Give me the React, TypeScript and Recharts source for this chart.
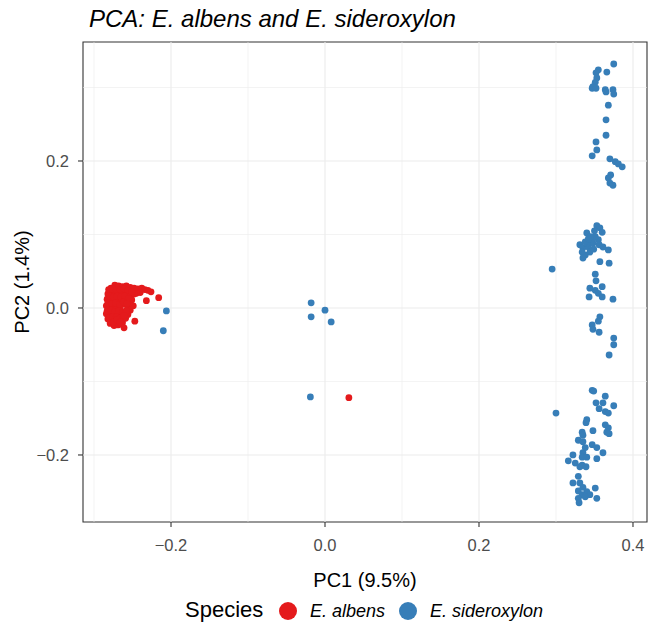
import { ScatterChart, Scatter, XAxis, YAxis, ReferenceLine, ReferenceArea } from 'recharts';

const albensX = [
  -0.278, -0.273, -0.268, -0.263, -0.258, -0.253, -0.248, -0.243, -0.238, -0.234, -0.230, -0.226, -0.240, -0.245,
  -0.282, -0.278, -0.273, -0.268, -0.262, -0.257, -0.252, -0.248,
  -0.283, -0.279, -0.274, -0.269, -0.264, -0.259, -0.254, -0.251,
  -0.284, -0.280, -0.276, -0.271, -0.266, -0.261, -0.256, -0.253,
  -0.284, -0.279, -0.275, -0.270, -0.265, -0.260, -0.256,
  -0.282, -0.278, -0.273, -0.268, -0.263, -0.259,
  -0.279, -0.274, -0.269, -0.265,
  -0.281, -0.276, -0.271, -0.266, -0.261, -0.256, -0.251,
  -0.280, -0.275, -0.270, -0.265, -0.260, -0.255,
  -0.282, -0.277, -0.272, -0.267, -0.262, -0.257,
  -0.283, -0.278, -0.273, -0.268, -0.263, -0.258,
  -0.280, -0.276, -0.271, -0.266, -0.261,
  -0.275, -0.270, -0.266,
  -0.216, -0.232, -0.249, -0.247, -0.261, 0.031,
];
const albensY = [
  0.027, 0.031, 0.030, 0.029, 0.030, 0.028, 0.027, 0.026, 0.027, 0.025, 0.024, 0.022, 0.021, 0.020,
  0.019, 0.022, 0.018, 0.021, 0.019, 0.022, 0.017, 0.019,
  0.012, 0.010, 0.013, 0.009, 0.011, 0.014, 0.008, 0.011,
  0.003, 0.000, 0.004, 0.001, -0.002, 0.005, 0.000, -0.003,
  -0.008, -0.006, -0.010, -0.007, -0.011, -0.005, -0.009,
  -0.015, -0.019, -0.015, -0.018, -0.020, -0.014,
  -0.021, -0.024, -0.023, -0.022,
  0.025, 0.026, 0.024, 0.025, 0.026, 0.024, 0.022,
  0.016, 0.015, 0.016, 0.015, 0.016, 0.013,
  0.007, 0.006, 0.007, 0.005, 0.008, 0.006,
  -0.004, -0.003, -0.005, -0.004, -0.006, -0.004,
  -0.013, -0.012, -0.012, -0.014, -0.010,
  -0.019, -0.016, -0.019,
  0.014, 0.010, 0.003, -0.018, -0.027, -0.122,
];

const sideroxylonX = [
  -0.206, -0.210, -0.018, 0.000, -0.018, 0.008, -0.019,
  0.375, 0.366, 0.355, 0.352, 0.353, 0.351, 0.348, 0.347, 0.352, 0.364, 0.365, 0.374, 0.375,
  0.368, 0.365, 0.365, 0.352, 0.353, 0.347, 0.370, 0.377, 0.381, 0.386, 0.371, 0.368, 0.370, 0.374,
  0.295, 0.340, 0.353, 0.357, 0.360, 0.331, 0.335, 0.342, 0.348, 0.355, 0.361, 0.368, 0.338, 0.344,
  0.334, 0.351, 0.347, 0.340, 0.335, 0.357, 0.369, 0.351, 0.352, 0.344, 0.351, 0.360, 0.355, 0.343,
  0.360, 0.374, 0.357, 0.355, 0.347, 0.348, 0.356, 0.375, 0.375, 0.369,
  0.345, 0.350, 0.338, 0.356, 0.349, 0.342,
  0.300, 0.347, 0.349, 0.364, 0.352, 0.361, 0.375, 0.356, 0.364, 0.368, 0.340, 0.339, 0.364, 0.368,
  0.366, 0.369, 0.348, 0.334, 0.335, 0.329, 0.335, 0.347, 0.353, 0.338, 0.361, 0.335, 0.322, 0.334,
  0.340, 0.316, 0.325, 0.353, 0.334, 0.339, 0.331, 0.329, 0.322, 0.331, 0.335, 0.351, 0.329, 0.340,
  0.334, 0.344, 0.353, 0.329, 0.330, 0.338,
];
const sideroxylonY = [
  -0.004, -0.031, 0.007, -0.003, -0.012, -0.019, -0.121,
  0.332, 0.321, 0.324, 0.320, 0.313, 0.307, 0.301, 0.299, 0.299, 0.297, 0.294, 0.297, 0.291,
  0.276, 0.256, 0.235, 0.226, 0.215, 0.207, 0.203, 0.199, 0.196, 0.192, 0.181, 0.177, 0.170, 0.167,
  0.053, 0.102, 0.112, 0.109, 0.103, 0.086, 0.082, 0.083, 0.088, 0.093, 0.083, 0.079, 0.072, 0.076,
  0.076, 0.097, 0.093, 0.088, 0.068, 0.063, 0.061, 0.046, 0.037, 0.027, 0.024, 0.029, 0.020, 0.015,
  0.015, 0.012, -0.012, -0.018, -0.023, -0.029, -0.033, -0.041, -0.050, -0.064,
  0.097, 0.105, 0.090, 0.086, 0.080, 0.094,
  -0.143, -0.112, -0.113, -0.120, -0.129, -0.129, -0.133, -0.137, -0.141, -0.143, -0.152, -0.156, -0.159, -0.163,
  -0.169, -0.171, -0.167, -0.169, -0.173, -0.180, -0.182, -0.186, -0.190, -0.190, -0.197, -0.197, -0.200, -0.203,
  -0.203, -0.208, -0.211, -0.205, -0.214, -0.216, -0.216, -0.229, -0.238, -0.238, -0.244, -0.245, -0.249, -0.250,
  -0.254, -0.254, -0.259, -0.259, -0.265, -0.257,
];

const xTicks = [-0.2, 0, 0.2, 0.4];
const yTicks = [-0.2, 0, 0.2];
const xMinor = [-0.3, -0.1, 0.1, 0.3];
const yMinor = [-0.1, 0.1, 0.3];
const xDomain = [-0.3143, 0.4182];
const yDomain = [-0.2912, 0.3619];

const albens = albensX.map((x, i) => ({ x, y: albensY[i] }));
const sideroxylon = sideroxylonX.map((x, i) => ({ x, y: sideroxylonY[i] }));

const RED = '#E41A1C';
const BLUE = '#377EB8';
const GRID = '#EBEBEB';
const FONT = '"Liberation Sans", Arial, sans-serif';

const fmt = (v: number) => (v < 0 ? '\u2212' + Math.abs(v).toFixed(1) : v.toFixed(1));

const dot = (color: string) => (props: any) => <circle cx={props.cx} cy={props.cy} r={3.4} fill={color} />;

const abs = (left: number, top: number, extra: object = {}) => ({
  position: 'absolute' as const, left, top, lineHeight: 1, whiteSpace: 'nowrap' as const, color: '#000', ...extra,
});

export default function App() {
  return (
    <div style={{ position: 'absolute', left: 0, top: 0, width: 648, height: 623, background: '#fff', fontFamily: FONT }}>
      <div style={abs(89, 7, { fontSize: 24, fontStyle: 'italic' })}>PCA: E. albens and E. sideroxylon</div>
      <ScatterChart width={648} height={623} margin={{ top: 42, right: 1, bottom: 61, left: 23 }}>
        {xMinor.map(v => (
          <ReferenceLine key={'xm' + v} x={v} stroke={GRID} strokeWidth={0.6} />
        ))}
        {yMinor.map(v => (
          <ReferenceLine key={'ym' + v} y={v} stroke={GRID} strokeWidth={0.6} />
        ))}
        {xTicks.map(v => (
          <ReferenceLine key={'xM' + v} x={v} stroke={GRID} strokeWidth={1.1} />
        ))}
        {yTicks.map(v => (
          <ReferenceLine key={'yM' + v} y={v} stroke={GRID} strokeWidth={1.1} />
        ))}
        <XAxis
          type="number"
          dataKey="x"
          domain={xDomain}
          ticks={xTicks}
          tickFormatter={fmt}
          allowDataOverflow
          height={40}
          axisLine={false}
          tickLine={{ stroke: '#333333', strokeWidth: 1.1 }}
          tickSize={5}
          tickMargin={12}
          tick={{ fill: '#4D4D4D', fontSize: 16.5, fontFamily: FONT }}
        />
        <YAxis
          type="number"
          dataKey="y"
          domain={yDomain}
          ticks={yTicks}
          tickFormatter={fmt}
          allowDataOverflow
          width={60}
          axisLine={false}
          tickLine={{ stroke: '#333333', strokeWidth: 1.1 }}
          tickSize={5}
          tickMargin={9}
          tick={{ fill: '#4D4D4D', fontSize: 16.5, fontFamily: FONT }}
        />
        <Scatter data={albens} fill={RED} shape={dot(RED)} isAnimationActive={false} />
        <Scatter data={sideroxylon} fill={BLUE} shape={dot(BLUE)} isAnimationActive={false} />
        <ReferenceArea x1={xDomain[0]} x2={xDomain[1]} y1={yDomain[0]} y2={yDomain[1]} fill="none" stroke="#333333" strokeWidth={1.1} />
      </ScatterChart>
      <div style={abs(365, 570, { fontSize: 20, transform: 'translateX(-50%)' })}>PC1 (9.5%)</div>
      <div style={abs(22, 282, { fontSize: 20, transform: 'translate(-50%, -50%) rotate(-90deg)' })}>PC2 (1.4%)</div>
      <div style={abs(185, 599, { fontSize: 22 })}>Species</div>
      <div style={abs(279, 602, { width: 18, height: 18, borderRadius: '50%', background: RED })} />
      <div style={abs(310, 602, { fontSize: 18, fontStyle: 'italic' })}>E. albens</div>
      <div style={abs(399, 602, { width: 18, height: 18, borderRadius: '50%', background: BLUE })} />
      <div style={abs(430, 602, { fontSize: 18, fontStyle: 'italic' })}>E. sideroxylon</div>
    </div>
  );
}
